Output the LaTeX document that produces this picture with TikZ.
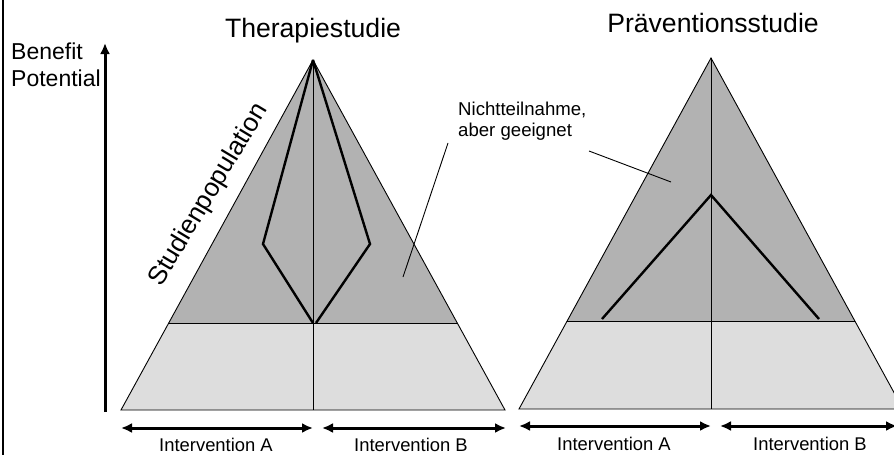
\documentclass[tikz,border=0pt]{standalone}
\usepackage{fontspec}
\setmainfont{Liberation Sans}
\usepackage{xcolor}
\usepackage{tikz}
\usetikzlibrary{arrows.meta,positioning,calc}

\definecolor{darkband}{HTML}{B2B2B2}
\definecolor{lightband}{HTML}{DDDDDD}

\begin{document}
\begin{tikzpicture}[x=1pt,y=-1pt,>={Latex[length=11pt,width=10pt]},
  thinline/.style={line width=0.9pt},
  kite/.style={line width=2.4pt,line join=miter},
  span/.style={<->,line width=3pt},
  lbl/.style={font=\fontsize{18.4}{22}\selectfont,anchor=base,inner sep=0pt}]
\clip (0,0) rectangle (894,455);
\fill[white] (0,0) rectangle (894,455);
% ---- linker Rand und Achse ----
\draw[line width=1.6pt] (3,0)--(3,455);
\coordinate (ax0) at (105,412);
\coordinate (ax1) at (105,43);
\draw[->,line width=3pt] (ax0)--(ax1);
\node[font=\fontsize{23}{27}\selectfont,align=left,anchor=base west,inner sep=0pt] (ben) at (11,86) {Benefit\\Potential};
% ---- Therapiestudie ----
\begin{scope}
  \coordinate (tA) at (313,60);
  \coordinate (tL) at (121,410);
  \coordinate (tR) at (505,410);
  \coordinate (tbL) at (169,323);
  \coordinate (tbR) at (457,323);
  \fill[lightband] (tL)--(tR)--(tA)--cycle;
  \fill[darkband] (tbL)--(tbR)--(tA)--cycle;
  \draw[thinline] (tL)--(tR)--(tA)--cycle;
  \draw[thinline] (tbL)--(tbR);
  \draw[thinline] (tA)--(313,410);
  \draw[kite] (tA)--(263,244)--(313,323);
  \draw[kite] (tA)--(370,244)--(316,323);
  \node[font=\fontsize{26.6}{30}\selectfont,anchor=base] (ttit) at (313,37) {Therapiestudie};
  \node[font=\fontsize{26}{30}\selectfont,rotate=59] (spop) at (209,195) {Studienpopulation};
  \coordinate (tA1) at (121,428);
  \coordinate (tA2) at (313,428);
  \coordinate (tB1) at (322,428);
  \coordinate (tB2) at (506,428);
  \draw[span] (tA1)--(tA2);
  \draw[span] (tB1)--(tB2);
  \node[lbl] (tia) at (216,451) {Intervention A};
  \node[lbl] (tib) at (411,451) {Intervention B};
\end{scope}
% ---- Praeventionsstudie ----
\begin{scope}
  \coordinate (pA) at (711,58);
  \coordinate (pL) at (519,409);
  \coordinate (pR) at (903,409);
  \coordinate (pbL) at (567,321);
  \coordinate (pbR) at (855,321);
  \fill[lightband] (pL)--(pR)--(pA)--cycle;
  \fill[darkband] (pbL)--(pbR)--(pA)--cycle;
  \draw[thinline] (pL)--(pR)--(pA)--cycle;
  \draw[thinline] (pbL)--(pbR);
  \draw[thinline] (pA)--(711,409);
  \draw[kite] (602,319)--(711,195)--(819,319);
  \node[font=\fontsize{26.6}{30}\selectfont,anchor=base] (ptit) at (713,32) {Präventionsstudie};
  \coordinate (pA1) at (519,426);
  \coordinate (pA2) at (711,426);
  \coordinate (pB1) at (720,426);
  \coordinate (pB2) at (897,426);
  \draw[span] (pA1)--(pA2);
  \draw[span] (pB1)--(pB2);
  \node[lbl] (pia) at (614,450) {Intervention A};
  \node[lbl] (pib) at (810,450) {Intervention B};
\end{scope}
% ---- Nichtteilnahme ----
\node[font=\fontsize{18.6}{21}\selectfont,align=left,anchor=base west,inner sep=0pt] (nt) at (458,136) {Nichtteilnahme,\\aber geeignet};
\coordinate (ntL) at (403,277);
\coordinate (ntR) at (671,182);
\draw[thinline] (448,143)--(ntL);
\draw[thinline] (589,151)--(ntR);
\end{tikzpicture}
\end{document}
